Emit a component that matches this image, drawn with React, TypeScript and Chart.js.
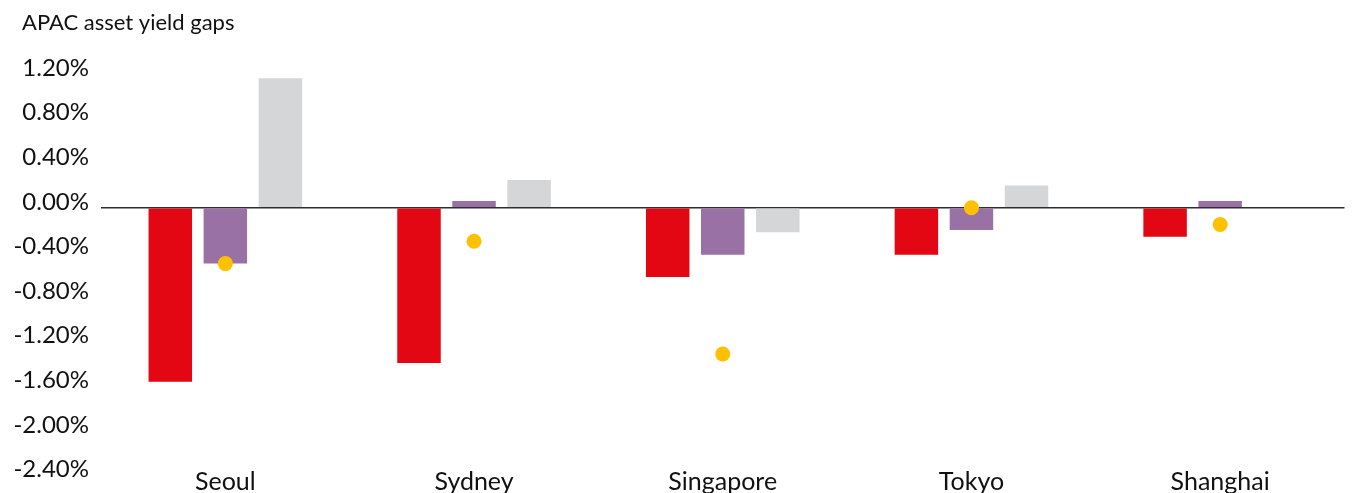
import React, { useEffect, useRef } from "react";
import { Chart, registerables } from "chart.js";

Chart.register(...registerables);

// Cities along the category axis
const cities = ["Seoul", "Sydney", "Singapore", "Tokyo", "Shanghai"];

// Yield gap values, in percent
const redSeries = [-1.56, -1.39, -0.62, -0.42, -0.26];
const purpleSeries = [-0.5, 0.06, -0.42, -0.2, 0.06];
const greySeries: (number | null)[] = [1.16, 0.25, -0.22, 0.2, null];
const dotSeries = [-0.5, -0.3, -1.31, 0.0, -0.15];

// Value axis range and step, in percent
const yMin = -2.4;
const yMax = 1.2;
const yStep = 0.4;

const chartTitle = "APAC asset yield gaps";
const FONT = "Lato, 'Noto Sans', sans-serif";

// Draws the chart heading and the city names under the bars
const annotationText = {
  id: "annotationText",
  afterDraw(chart: any) {
    const ctx = chart.ctx;
    const xScale = chart.scales.x;
    ctx.save();
    ctx.fillStyle = "#111";

    ctx.font = `22px ${FONT}`;
    ctx.textAlign = "left";
    ctx.textBaseline = "alphabetic";
    ctx.fillText(chartTitle, 22, 30);

    ctx.font = `25px ${FONT}`;
    ctx.textAlign = "center";
    (chart.data.labels as string[]).forEach((label, i) => {
      ctx.fillText(label, xScale.getPixelForValue(i), 490);
    });
    ctx.restore();
  },
};

export default function App() {
  const canvasRef = useRef<HTMLCanvasElement | null>(null);

  useEffect(() => {
    document.body.style.margin = "0";
    document.body.style.overflow = "hidden";
    document.documentElement.style.overflow = "hidden";

    const canvas = canvasRef.current;
    if (!canvas) return;

    const chart = new Chart(canvas, {
      type: "bar",
      data: {
        labels: cities,
        datasets: [
          {
            type: "line",
            data: dotSeries,
            showLine: false,
            pointRadius: 7.5,
            pointHoverRadius: 7.5,
            pointBackgroundColor: "#FFC000",
            pointBorderWidth: 0,
            borderColor: "#FFC000",
            order: 0,
          },
          {
            data: redSeries,
            backgroundColor: "#E30613",
            borderWidth: 0,
            barPercentage: 0.79,
            categoryPercentage: 0.664,
            order: 1,
          },
          {
            data: purpleSeries,
            backgroundColor: "#9A71A5",
            borderWidth: 0,
            barPercentage: 0.79,
            categoryPercentage: 0.664,
            order: 1,
          },
          {
            data: greySeries,
            backgroundColor: "#D5D6D8",
            borderWidth: 0,
            barPercentage: 0.79,
            categoryPercentage: 0.664,
            order: 1,
          },
        ],
      },
      plugins: [annotationText],
      options: {
        responsive: false,
        animation: false,
        layout: { padding: { left: 0, right: 2, top: 73.9, bottom: 17.4 } },
        plugins: {
          legend: { display: false },
          tooltip: { enabled: false },
          title: { display: false },
        },
        scales: {
          x: {
            display: false,
          },
          y: {
            min: yMin,
            max: yMax,
            afterFit: (scale: any) => {
              scale.width = 101;
              scale.paddingTop = 0;
              scale.paddingBottom = 0;
            },
            border: { display: false },
            grid: {
              drawTicks: false,
              lineWidth: 1.5,
              color: (ctx: any) =>
                ctx.tick && Math.abs(ctx.tick.value) < 1e-9 ? "#2e2e2e" : "rgba(0,0,0,0)",
            },
            ticks: {
              stepSize: yStep,
              color: "#111",
              padding: 12,
              labelOffset: -6,
              font: { family: FONT, size: 24 },
              callback: (v: any) => Number(v).toFixed(2) + "%",
            },
          },
        },
      },
    });

    return () => chart.destroy();
  }, []);

  return (
    <div style={{ width: 1352, height: 493 }}>
      <canvas ref={canvasRef} width={1352} height={493} style={{ width: 1352, height: 493, display: "block" }} />
    </div>
  );
}
